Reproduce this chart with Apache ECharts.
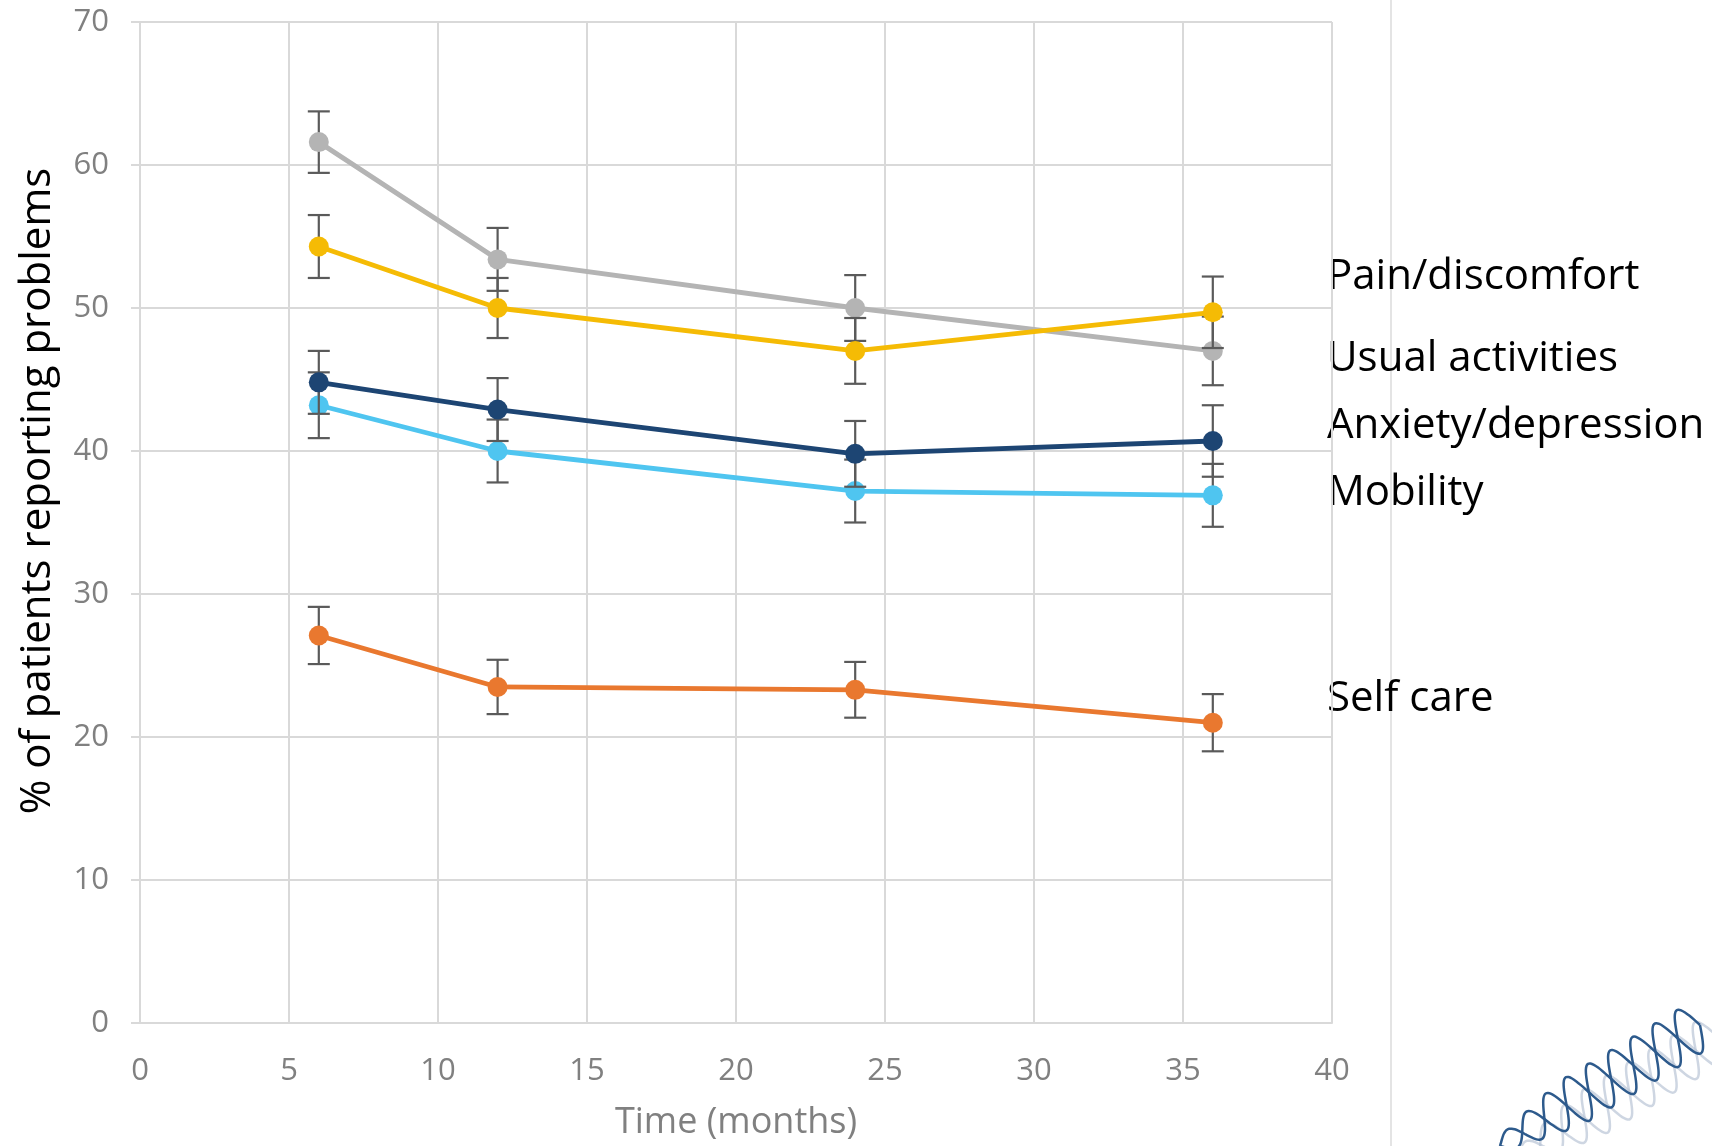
<!DOCTYPE html>
<html>
<head>
<meta charset="utf-8">
<script src="https://cdn.jsdelivr.net/npm/echarts@6/dist/echarts.min.js"></script>
<style>
html,body{margin:0;padding:0;background:#fff;}
#chart{width:1712px;height:1146px;}
</style>
</head>
<body>
<div id="chart"></div>
<script>
// ---- data ----
const months = [6, 12, 24, 36];
const seriesNames = ['Self care', 'Mobility', 'Anxiety/depression', 'Usual activities', 'Pain/discomfort'];
const selfCare = [27.1, 23.5, 23.3, 21.0];
const selfCareErr = [2.0, 1.9, 1.95, 2.0];
const mobility = [43.2, 40.0, 37.2, 36.9];
const mobilityErr = [2.3, 2.2, 2.2, 2.2];
const anxiety = [44.8, 42.9, 39.8, 40.7];
const anxietyErr = [2.2, 2.2, 2.3, 2.5];
const usual = [61.6, 53.4, 50.0, 47.0];
const usualErr = [2.15, 2.2, 2.3, 2.4];
const pain = [54.3, 50.0, 47.0, 49.7];
const painErr = [2.2, 2.1, 2.3, 2.5];
const xTicks = [0, 5, 10, 15, 20, 25, 30, 35, 40];
const yTicks = [0, 10, 20, 30, 40, 50, 60, 70];
const rightLabels = ['Pain/discomfort', 'Usual activities', 'Anxiety/depression', 'Mobility', 'Self care'];
const yTitle = '% of patients reporting problems';
const xTitle = 'Time (months)';

// ---- styling ----
const colors = ['#e9782f', '#4fc5f0', '#1d4573', '#b4b4b4', '#f5bb05'];
const valueSets = [selfCare, mobility, anxiety, usual, pain];
const errSets = [selfCareErr, mobilityErr, anxietyErr, usualErr, painErr];
const gridColor = '#d9d9d9';
const axisTextColor = '#808080';
const FONT = '"Open Sans", "Noto Sans", sans-serif';

const chart = echarts.init(document.getElementById('chart'));

function errorRender(params, api) {
  const x = api.value(0), lo = api.value(1), hi = api.value(2);
  const pTop = api.coord([x, hi]);
  const pBot = api.coord([x, lo]);
  const w = 11;
  const st = { stroke: '#5a5a5a', lineWidth: 2.2 };
  return {
    type: 'group',
    children: [
      { type: 'line', shape: { x1: pTop[0], y1: pTop[1], x2: pBot[0], y2: pBot[1] }, style: st },
      { type: 'line', shape: { x1: pTop[0] - w, y1: pTop[1], x2: pTop[0] + w, y2: pTop[1] }, style: st },
      { type: 'line', shape: { x1: pBot[0] - w, y1: pBot[1], x2: pBot[0] + w, y2: pBot[1] }, style: st }
    ]
  };
}

const series = [];
valueSets.forEach((vals, k) => {
  series.push({
    type: 'custom',
    name: seriesNames[k] + ' err',
    renderItem: errorRender,
    data: months.map((m, i) => [m, vals[i] - errSets[k][i], vals[i] + errSets[k][i]]),
    z: 2 + k * 2,
    silent: true
  });
  series.push({
    type: 'line',
    name: seriesNames[k],
    data: months.map((m, i) => [m, vals[i]]),
    symbol: 'circle',
    symbolSize: 20,
    lineStyle: { color: colors[k], width: 4.8 },
    itemStyle: { color: colors[k] },
    z: 3 + k * 2,
    animation: false
  });
});

// decorative helix logo (not data)
function helix(phase, color, dx, dy, opacity) {
  const pts = [];
  const x0 = 1500, y0 = 1146, x1 = 1700, y1 = 1025;
  for (let t = 0; t <= 1.0001; t += 0.01) {
    const bx = x0 + (x1 - x0) * t, by = y0 + (y1 - y0) * t;
    const amp = 24 * Math.min(1, 0.3 + t * 2);
    const s = amp * Math.sin(t * Math.PI * 9 + phase);
    pts.push([bx + s * 0.5 + dx, by + s * 0.9 + dy]);
  }
  return { type: 'polyline', shape: { points: pts, smooth: 0.3 }, style: { stroke: color, lineWidth: 2.5, fill: null, opacity: opacity } };
}

const graphics = [
  { type: 'line', shape: { x1: 1391, y1: 0, x2: 1391, y2: 1146 }, style: { stroke: '#e4e4e4', lineWidth: 2 } },
  helix(Math.PI, '#b9c4d6', 18, 12, 0.7),
  helix(0, '#b9c4d6', 18, 12, 0.7),
  helix(0, '#2d5a8c', 0, 0, 1),
  helix(Math.PI, '#2d5a8c', 0, 0, 1),
  {
    type: 'text', x: 38, y: 491, rotation: Math.PI / 2,
    style: { text: yTitle, fill: '#000', font: '42px ' + FONT, align: 'center', verticalAlign: 'middle' }
  }
];
const labelCenters = [277, 359, 426, 493, 699];
rightLabels.forEach((t, i) => {
  graphics.push({
    type: 'text',
    x: 1327,
    y: labelCenters[i],
    style: { text: t, fill: '#000', font: '42px ' + FONT, verticalAlign: 'middle' }
  });
});

chart.setOption({
  backgroundColor: '#fff',
  animation: false,
  grid: { left: 140, right: 380, top: 22, bottom: 119 },
  xAxis: {
    type: 'value', min: 0, max: 40, interval: 5,
    name: xTitle, nameLocation: 'middle', nameGap: 82,
    nameTextStyle: { color: axisTextColor, fontSize: 36, fontFamily: FONT },
    axisLine: { show: true, lineStyle: { color: gridColor, width: 2 } },
    axisTick: { show: false },
    axisLabel: { color: axisTextColor, fontSize: 31, fontFamily: FONT, margin: 33,
      formatter: v => (xTicks.indexOf(v) >= 0 ? String(v) : '') },
    splitLine: { show: true, lineStyle: { color: gridColor, width: 2 } }
  },
  yAxis: {
    type: 'value', min: 0, max: 70, interval: 10,
    axisLine: { show: true, lineStyle: { color: gridColor, width: 2 } },
    axisTick: { show: true, length: 9, lineStyle: { color: gridColor, width: 2 } },
    axisLabel: { color: axisTextColor, fontSize: 31, fontFamily: FONT, margin: 31,
      formatter: v => (yTicks.indexOf(v) >= 0 ? String(v) : '') },
    splitLine: { show: true, lineStyle: { color: gridColor, width: 2 } }
  },
  series: series,
  graphic: graphics
});
</script>
</body>
</html>
